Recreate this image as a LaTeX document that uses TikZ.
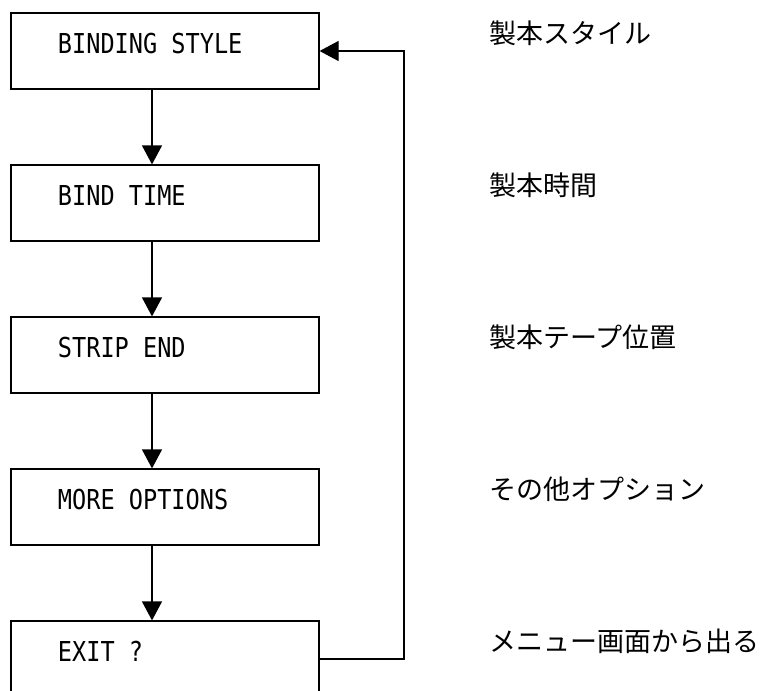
\documentclass[tikz,border=0pt]{standalone}
\usepackage{fontspec}
\newfontfamily\boxfont[FakeStretch=0.86]{DejaVu Sans Mono}
\newfontfamily\jpfont{Noto Sans CJK JP}
\newcommand{\monosp}{\hspace*{14.2pt}}
\usetikzlibrary{arrows.meta}
\begin{document}
\begin{tikzpicture}[x=1pt,y=-1pt,
  stepbox/.style={draw, line width=1.2pt, rectangle, minimum width=308pt, minimum height=76pt,
    inner xsep=0pt, inner ysep=0pt, text width=308pt, align=left, text height=20pt, text depth=16pt,
    font=\boxfont\fontsize{27.4}{30}\selectfont},
  jplabel/.style={anchor=base west, inner sep=0pt, font=\jpfont\fontsize{27}{30}\selectfont},
  conn/.style={line width=1.2pt, -{Triangle[length=19pt,width=20pt]}}]
\clip (0,0) rectangle (766,691);
\node[stepbox] (b1) at (165,51) {\hspace*{47pt}BINDING\monosp STYLE};
\node[stepbox] (b2) at (165,203) {\hspace*{47pt}BIND\monosp TIME};
\node[stepbox] (b3) at (165,355) {\hspace*{47pt}STRIP\monosp END};
\node[stepbox] (b4) at (165,507) {\hspace*{47pt}MORE\monosp OPTIONS};
\node[stepbox] (b5) at (165,659) {\hspace*{47pt}EXIT\monosp ?};
\coordinate (cx) at (152,0);
\coordinate (rx) at (404,0);
\draw[conn] (b1.south -| cx) -- (b2.north -| cx);
\draw[conn] (b2.south -| cx) -- (b3.north -| cx);
\draw[conn] (b3.south -| cx) -- (b4.north -| cx);
\draw[conn] (b4.south -| cx) -- (b5.north -| cx);
\draw[conn] (b5.east) -- (b5.east -| rx) -- (b1.east -| rx) -- (b1.east);
\node[jplabel] (l1) at (489,43) {製本スタイル};
\node[jplabel] (l2) at (489,195) {製本時間};
\node[jplabel] (l3) at (489,347) {製本テープ位置};
\node[jplabel] (l4) at (489,499) {その他オプション};
\node[jplabel] (l5) at (489,651) {メニュー画面から出る};
\end{tikzpicture}
\end{document}
